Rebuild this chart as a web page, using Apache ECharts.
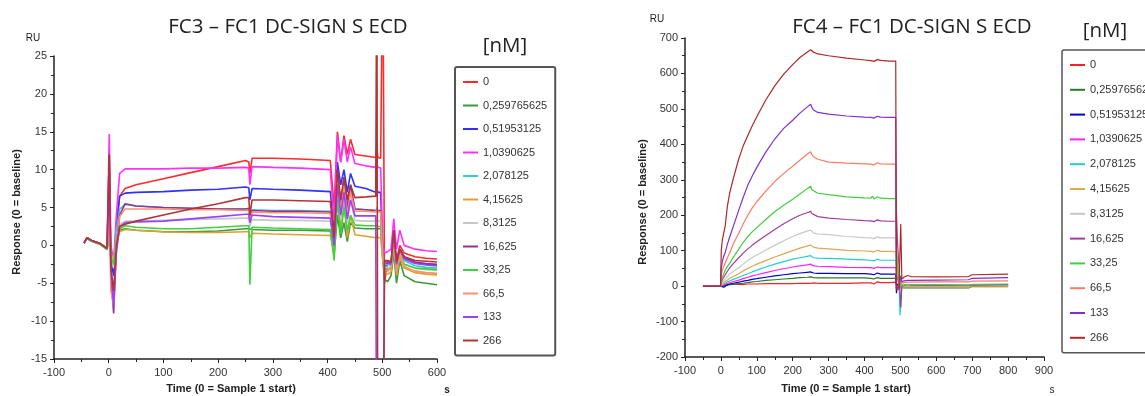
<!DOCTYPE html>
<html>
<head>
<meta charset="utf-8">
<script src="https://cdn.jsdelivr.net/npm/echarts@6/dist/echarts.min.js"></script>
<style>
html,body{margin:0;padding:0;background:#fff;}
#chart{width:1145px;height:396px;}
</style>
</head>
<body>
<div id="chart"></div>
<script>
// ---------- DATA ----------
const concLabels = ['0','0,259765625','0,51953125','1,0390625','2,078125','4,15625','8,3125','16,625','33,25','66,5','133','266'];

const fc3XTicks = [-100, 0, 100, 200, 300, 400, 500, 600];
const fc3YTicks = [-15, -10, -5, 0, 5, 10, 15, 20, 25];
const fc4XTicks = [-100, 0, 100, 200, 300, 400, 500, 600, 700, 800, 900];
const fc4YTicks = [-200, -100, 0, 100, 200, 300, 400, 500, 600, 700];

// FC3 - FC1 (time, s)
const fc3Time = [-45,-40,-30,-15,-3, 1,4,9,14,20, 30,50,100,150,200, 250,256,258,262,300, 350,405,412,418,424, 430,436,442,450,470, 488,490,492,497,501, 504,510,516,521,526, 532,540,560,580,600];
const fc3_0     = [0.3,1.0,0.6,0.2,-0.4, 3,-1,-3,2,6.5, 7.5,8.0,8.8,9.6,10.4, 11.2,11.0,9.5,11.5,11.5, 11.4,11.2,5,15,11, 14.5,12,14,12,11.8, 11.6,13,11.6,11.5,40, -5,-2,-2.5,1,-2, 0,-1,-1.5,-1.7,-1.8];
const fc3_0259  = [0.3,0.9,0.5,0.1,-0.5, 2,-2,-3,0,2, 2.2,2.0,1.8,1.8,1.9, 2.2,2.2,2.0,2.1,2.0, 2.0,1.9,-1.2,4,1, 3,0.5,3,2.3,2.2, 2.2,2.4,2.2,2.2,-2, -4.5,-4.8,-4,-1,-5, -2,-4,-4.8,-5.0,-5.2];
const fc3_0519  = [0.3,1.0,0.6,0.2,-0.4, 5,-2,-4,3,6.5, 6.9,7.0,7.1,7.3,7.4, 7.7,7.6,6,7.5,7.4, 7.3,7.1,2,11,8, 10,7,9.5,7.8,7.5, 7.0,7.5,7.0,7.0,-1, -3,-2.2,-2.7,1,-2.3, -0.5,-1.5,-2.3,-2.5,-2.6];
const fc3_1039  = [0.3,1.0,0.6,0.2,-0.4, 14.7,0,-2,4,9.5, 10.1,10.1,10.1,10.2,10.2, 10.3,10.2,8,10.4,10.3, 10.2,10.0,3,14.5,11, 14,11,13,10.8,10.5, 10.3,11,10.3,10.2,0, -1,-0.8,-0.5,3.5,-0.5, 2,0,-0.5,-0.7,-0.8];
const fc3_2078  = [0.3,1.0,0.6,0.2,-0.4, 2,-1,-3,2,4.8, 5.4,5.2,5.0,4.9,4.8, 4.8,4.8,3.5,4.7,4.6, 4.6,4.5,0.5,9,5, 8,5,7,4.8,4.7, 4.6,4.8,4.6,4.6,-1, -2.5,-2.6,-2.5,1,-2.8, -0.5,-2,-2.7,-2.9,-3.0];
const fc3_4156  = [0.3,1.0,0.6,0.2,-0.4, 2,-1,-2,1,1.8, 2.1,2.0,1.8,1.7,1.7, 1.8,1.8,1.0,1.6,1.5, 1.4,1.3,-1,7,2, 6,1,4,1.4,1.2, 1.0,1.3,1.0,1.0,-2, -3.5,-3.8,-3.5,0,-4, -1.5,-3,-3.6,-3.8,-3.9];
const fc3_8312  = [0.3,1.0,0.6,0.2,-0.4, 3,-1,-3,1,2.8, 3.2,3.2,3.3,3.4,3.5, 3.6,3.6,2.5,3.4,3.3, 3.3,3.2,0,8,3.5, 7,3,6,3.3,3.2, 3.2,3.4,3.2,3.2,-1.5, -2.8,-3,-2.8,0.5,-3, -1,-2.5,-3,-3.2,-3.3];
const fc3_16625 = [0.3,1.0,0.6,0.2,-0.4, 12,-4,-9,0,4, 5.5,5.2,5.0,4.9,4.8, 4.8,4.9,3.5,4.6,4.5, 4.5,4.4,0,10,5, 9,5,8,4.8,4.7, 4.6,4.8,4.6,4.6,-1, -2.2,-2.2,-2.3,2,-2.4, -0.5,-1.6,-2.2,-2.4,-2.5];
const fc3_3325  = [0.3,0.9,0.5,0.1,-0.6, 1,-1.5,-2.5,1,2.2, 2.6,2.4,2.2,2.2,2.4, 2.6,2.6,-5.2,2.4,2.3, 2.2,2.1,-2,6,1.5, 5,2,4,2.7,2.6, 2.6,2.8,2.5,2.5,-1.5, -3,-3.2,-3,0,-3.3, -1,-2.5,-3.0,-3.1,-3.2];
const fc3_665   = [0.3,1.0,0.6,0.2,-0.4, 4,-6,-8,0,3.8, 4.8,4.8,4.8,4.7,4.7, 4.6,4.6,3.0,4.4,4.3, 4.3,4.2,0.5,9,4.5, 8,4,7,4.5,4.5, 4.4,5,4.4,4.4,-2, -3.2,-3.4,-3,0.5,-3.5, -1,-2.8,-3.4,-3.6,-3.7];
const fc3_133   = [0.3,1.0,0.6,0.2,-0.4, 10,-3,-8,-1,2.5, 3.0,3.1,3.2,3.5,3.8, 4.1,4.1,3,4.0,3.8, 3.7,3.6,0,8,4, 7,3.5,6,3.9,3.9, 3.9,-40,-40,-40,-40, -2.3,-2.3,-2.5,1.5,-2.5, -0.5,-1.8,-2.4,-2.6,-2.7];
const fc3_266   = [0.3,1.0,0.6,0.2,-0.4, 12,-3,-6,0,2.5, 2.8,3.2,4.0,4.8,5.5, 6.3,6.3,4,6.0,6.0, 5.9,5.8,1,10,6, 9,6,8,6.3,6.4, 6.5,40,-40,-40,-40, -2,-2,-2.2,2,-2.2, -0.5,-1.5,-2,-2.1,-2.2];

// FC4 - FC1 (time, s)
const fc4Time = [-50,-1,1,4,8, 12,18,25,35,50,62,75,87,100,125,150,175,200,220,240, 250,253,258,270,300,350,400, 418,422,426,436,440, 445,470,487,489,492, 496,499,501,504,510, 520,525,530,600,690, 700,800];
const fc4_0     = [0,0,2,0,2, 4,4,5,5,5,5,6,6,6,7,7,7,7,8,8, 8,3,9,8,8,8,9, 9,14,6,12,8, 10,10,11,5,0, 0,0,2,2,2, 3,2,2,2,2, 3,3];
const fc4_0259  = [0,0,0,-3,0, 2,3,4,5,7,8,10,12,13,16,18,20,22,24,25, 26,24,24,23,23,23,23, 22,26,20,24,21, 22,22,22,10,0, -2,-3,-5,-5,-5, -4,-5,-5,-5,-5, -1,0];
const fc4_0519  = [0,0,0,-5,-3, 2,4,6,8,11,14,16,19,21,25,29,32,35,37,39, 40,37,37,36,36,35,35, 34,39,32,37,33, 34,34,34,-20,5, 0,0,2,0,1, 1,1,1,1,1, 2,2];
const fc4_1039  = [0,0,1,2,4, 6,8,10,13,17,21,25,29,32,38,44,49,54,57,60, 62,58,57,56,55,53,52, 52,56,50,54,51, 52,52,52,40,20, 5,0,2,0,1, 2,1,1,1,1, 2,2];
const fc4_2078  = [0,0,2,4,6, 9,12,15,19,25,30,35,40,45,54,62,69,76,80,84, 86,82,80,79,78,76,74, 73,78,71,76,72, 73,73,73,60,40, 10,-83,-83,-2,0, 1,1,1,1,1, 2,2];
const fc4_4156  = [0,0,3,6,10, 13,17,22,27,35,43,50,56,62,72,82,91,100,107,113, 116,112,110,107,105,101,99, 98,103,96,101,97, 98,98,97,70,40, 20,-5,0,-3,-2, -3,-3,-3,-3,-3, -2,-2];
const fc4_8312  = [0,0,5,10,15, 20,27,35,42,52,62,72,80,88,102,115,128,140,148,155, 158,153,150,147,145,140,137, 136,141,134,139,135, 136,136,136,100,80, 20,0,5,1,2, 3,2,2,2,2, 3,3];
const fc4_16625 = [0,0,10,18,25, 32,42,52,64,80,93,105,115,125,143,160,176,190,200,207, 211,205,202,196,192,188,185, 184,189,182,187,183, 184,183,183,211,120, 60,-20,-60,0,2, 5,4,3,2,2, 3,4];
const fc4_3325  = [0,0,15,25,35, 45,55,65,82,105,123,140,153,165,188,210,228,245,260,275, 282,272,270,262,258,252,249, 248,254,246,252,247, 248,247,247,100,60, 5,-2,10,2,3, 4,3,4,4,3, 5,6];
const fc4_665   = [0,0,30,45,55, 65,80,95,120,150,175,200,220,238,268,295,318,338,355,372, 379,372,365,358,350,347,345, 344,349,342,348,344, 345,344,344,0,-3, 0,5,20,8,10, 11,10,11,12,12, 14,15];
const fc4_133   = [0,0,50,70,85, 95,118,140,170,215,250,285,310,335,378,415,445,468,488,505, 513,505,497,490,485,480,477, 476,481,474,479,475, 477,476,476,-5,0, -3,-5,30,12,15, 16,15,16,17,18, 22,24];
const fc4_266   = [0,0,100,130,150, 170,225,265,305,360,395,425,452,478,525,565,598,625,645,660, 667,662,660,655,650,643,638, 636,641,634,639,635, 637,635,635,-10,-5, -8,-10,175,20,25, 30,25,27,26,27, 32,34];

// ---------- STYLE ----------
const fc3Colors = ['#ff2a2a','#3a9a3a','#3030ff','#ff30ff','#30d0d0','#e0a030','#c8c8c8','#9a3090','#40d040','#ff8f70','#9a40ff','#b03535'];
const fc4Colors = ['#ff2020','#2a7a2a','#0000d0','#ff20ff','#20d0d0','#e0a850','#c8c8c8','#a03ca0','#40d040','#ff7a66','#8030d0','#b02828'];

const fc3Arrays = [fc3_0,fc3_0259,fc3_0519,fc3_1039,fc3_2078,fc3_4156,fc3_8312,fc3_16625,fc3_3325,fc3_665,fc3_133,fc3_266];
const fc4Arrays = [fc4_0,fc4_0259,fc4_0519,fc4_1039,fc4_2078,fc4_4156,fc4_8312,fc4_16625,fc4_3325,fc4_665,fc4_133,fc4_266];

const axisFont = {fontFamily:'Liberation Sans', fontSize:11, color:'#333'};
const series = [];
fc3Arrays.forEach((arr,i)=>{
  series.push({type:'line', name:concLabels[i], xAxisIndex:0, yAxisIndex:0, symbol:'none', clip:true,
    lineStyle:{width:1.6, color:fc3Colors[i]}, itemStyle:{color:fc3Colors[i]},
    data: fc3Time.map((t,k)=>[t, arr[k]])});
});
fc4Arrays.forEach((arr,i)=>{
  series.push({type:'line', name:concLabels[i], xAxisIndex:1, yAxisIndex:1, symbol:'none', clip:true,
    lineStyle:{width:1.2, color:fc4Colors[i]}, itemStyle:{color:fc4Colors[i]},
    data: fc4Time.map((t,k)=>[t, arr[k]])});
});

function xAxis(idx, ticks){
  return {type:'value', gridIndex:idx, min:ticks[0], max:ticks[ticks.length-1], interval:100,
    axisLine:{onZero:false, lineStyle:{color:'#222', width:1.5}},
    axisTick:{length:4, lineStyle:{color:'#222'}},
    minorTick:{show:true, splitNumber:2, length:3, lineStyle:{color:'#222'}},
    splitLine:{show:false}, axisLabel:Object.assign({margin:8}, axisFont)};
}
function yAxis(idx, ticks, interval){
  return {type:'value', gridIndex:idx, min:ticks[0], max:ticks[ticks.length-1], interval:interval,
    axisLine:{show:true, onZero:false, lineStyle:{color:'#222', width:1.5}},
    axisTick:{show:true, length:4, lineStyle:{color:'#222'}},
    minorTick:{show:true, splitNumber:2, length:3, lineStyle:{color:'#222'}},
    splitLine:{show:false}, axisLabel:Object.assign({margin:7}, axisFont)};
}
function legend(left, top, colors, gap, bw){
  return {orient:'vertical', left:left, top:top, padding:[8,8,8,8], itemGap:gap,
    icon:'rect', itemWidth:15, itemHeight:2,
    borderColor:'#555', borderWidth:bw, borderRadius:2,
    textStyle:{fontFamily:'Liberation Sans', fontSize:11, color:'#333', lineHeight:14},
    data: concLabels.map((n,i)=>({name:n, itemStyle:{color:colors[i]}}))};
}
function txt(x,y,text,font,extra){
  return Object.assign({type:'text', x:x, y:y, style:{text:text, font:font, fill:'#222',
    textAlign:'center', textVerticalAlign:'middle', align:'center', verticalAlign:'middle'}}, extra||{});
}

const option = {
  animation:false,
  grid:[
    {left:54, top:56, width:383, height:303},
    {left:685, top:38, width:359, height:319}
  ],
  xAxis:[xAxis(0, fc3XTicks), xAxis(1, fc4XTicks)],
  yAxis:[yAxis(0, fc3YTicks, 5), yAxis(1, fc4YTicks, 100)],
  legend:[legend(455, 67, fc3Colors, 9.5, 2), legend(1062, 50, fc4Colors, 10.8, 1.5)],
  series: series,
  graphic:[
    txt(288, 27, 'FC3 – FC1 DC-SIGN S ECD', '20.5px "Open Sans"'),
    txt(912, 27, 'FC4 – FC1 DC-SIGN S ECD', '20.5px "Open Sans"'),
    txt(505, 46, '[nM]', '20.5px "Open Sans"'),
    txt(1105, 31, '[nM]', '20.5px "Open Sans"'),
    txt(33, 38, 'RU', '10px "Liberation Sans"'),
    txt(657, 19, 'RU', '10px "Liberation Sans"'),
    txt(17, 212, 'Response (0 = baseline)', 'bold 11px "Liberation Sans"', {rotation:Math.PI/2}),
    txt(643, 202, 'Response (0 = baseline)', 'bold 11px "Liberation Sans"', {rotation:Math.PI/2}),
    txt(231, 389, 'Time (0 = Sample 1 start)', 'bold 11px "Liberation Sans"'),
    txt(846, 389, 'Time (0 = Sample 1 start)', 'bold 11px "Liberation Sans"'),
    txt(447, 390, 's', 'bold 10px "Liberation Sans"'),
    txt(1052, 390, 's', '10px "Liberation Sans"')
  ]
};
const chart = echarts.init(document.getElementById('chart'), null, {renderer:'canvas'});
chart.setOption(option);
</script>
</body>
</html>
